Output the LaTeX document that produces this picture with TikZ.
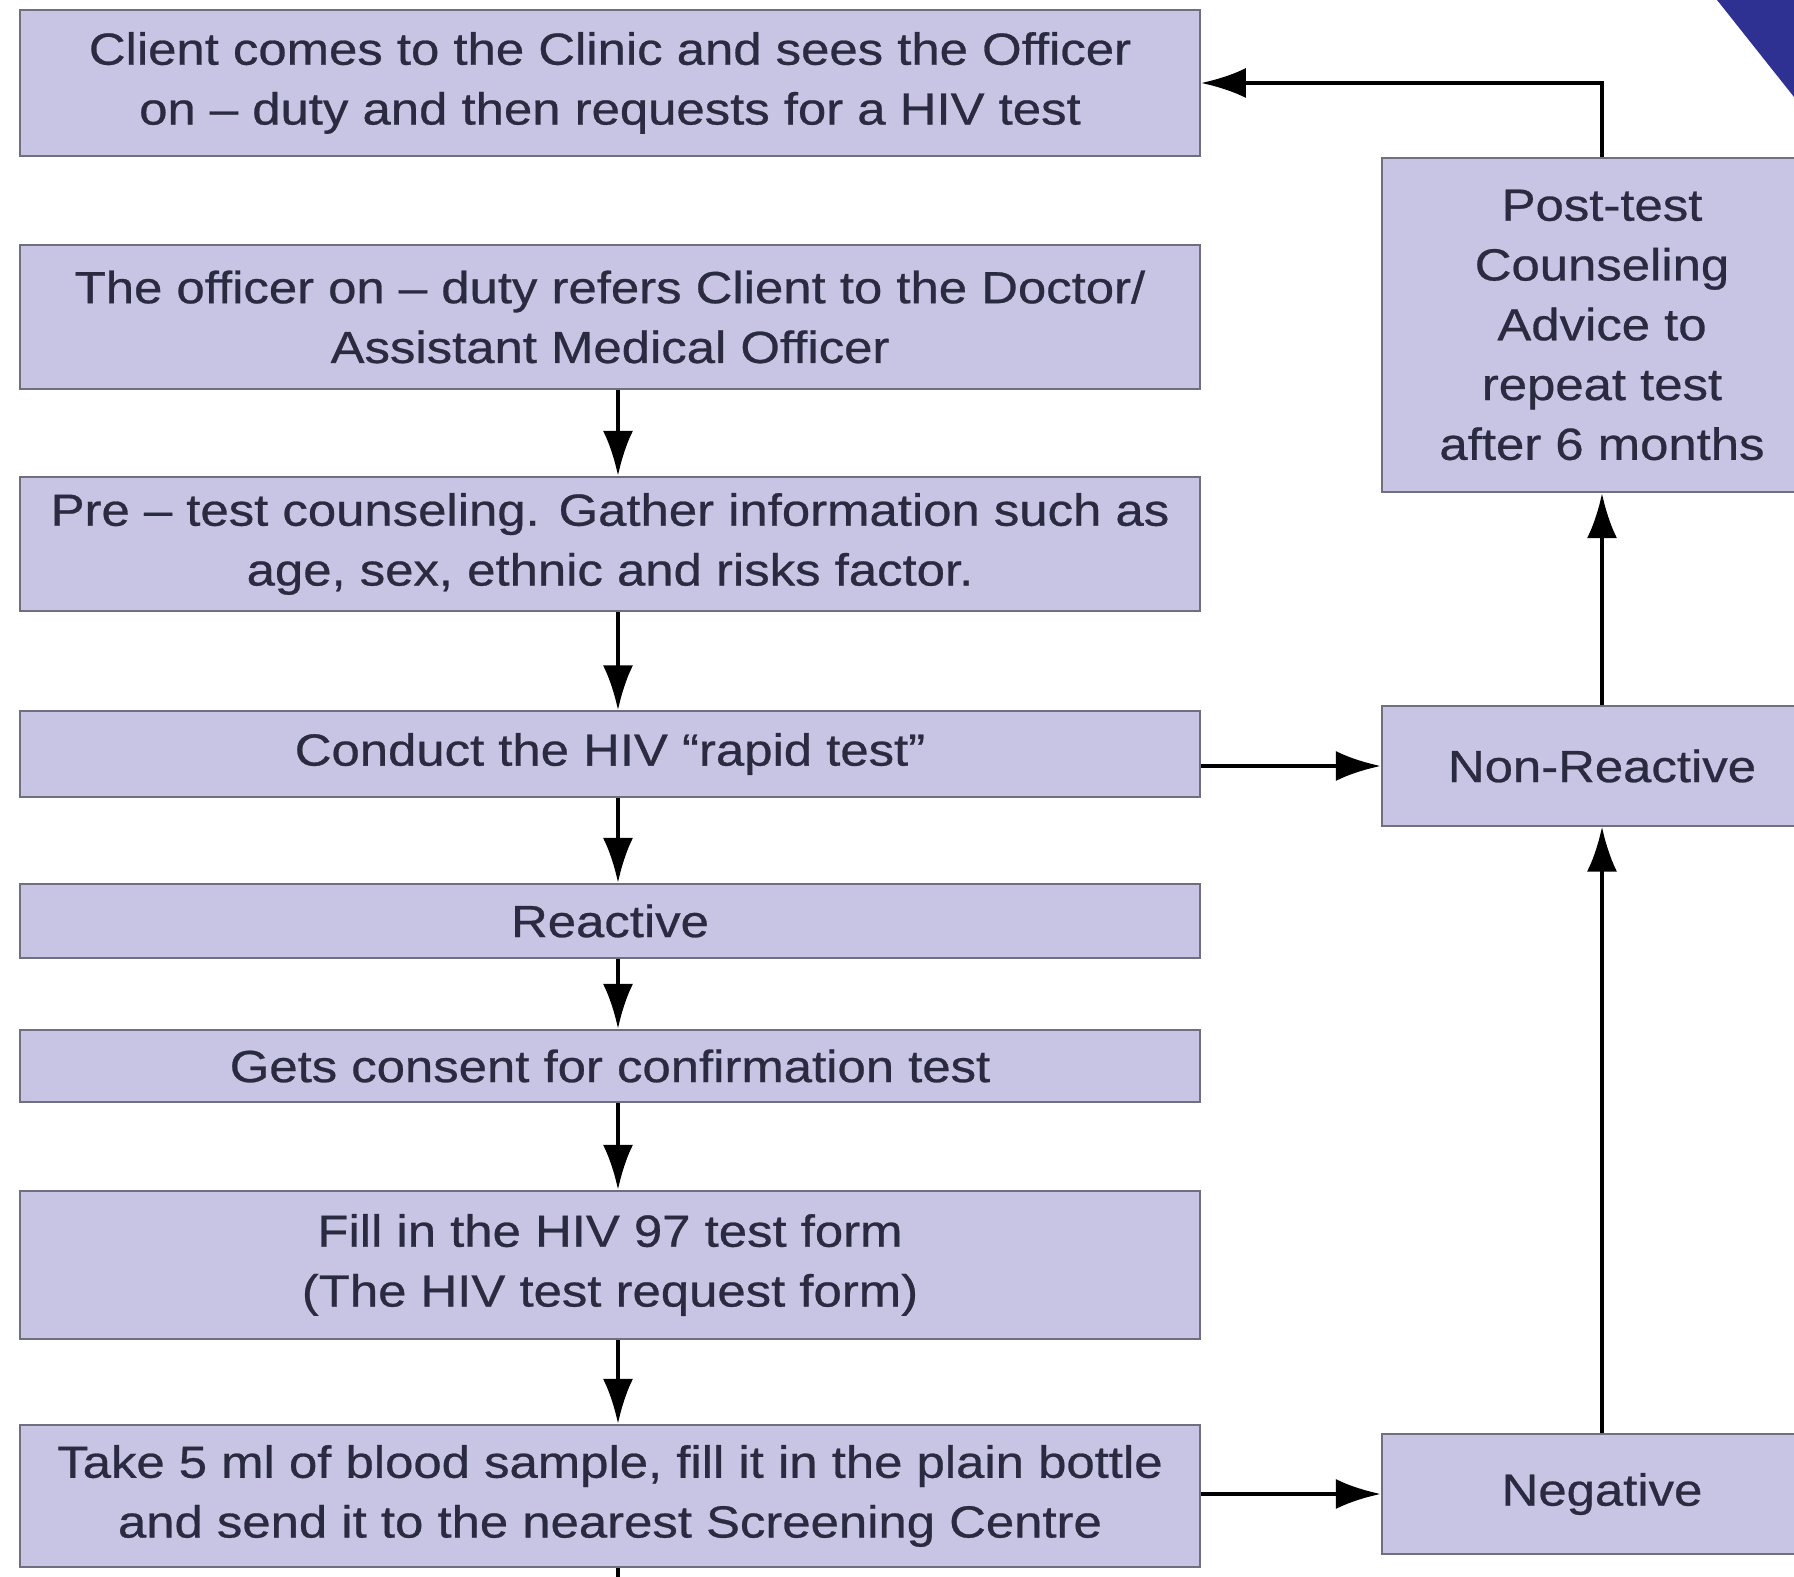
\documentclass[tikz,border=0pt]{standalone}
\usepackage{fontspec}
\setmainfont{Liberation Sans}[FakeStretch=1.13,FakeBold=0.6]
\usetikzlibrary{arrows.meta}
\definecolor{boxfill}{HTML}{C7C5E3}
\definecolor{boxline}{HTML}{6F6F80}
\definecolor{boxtext}{HTML}{2A2A40}
\definecolor{cornerblue}{HTML}{2E3192}
\begin{document}
\begin{tikzpicture}
		[x=0.01cm,y=-0.01cm,
		stepbox/.style={rectangle,draw=boxline,line width=0.02cm,fill=boxfill,text=boxtext,align=center,inner sep=0pt,font=\fontsize{12.8}{17}\selectfont},
		leftbox/.style={stepbox,minimum width=11.79cm},
		rightbox/.style={stepbox,minimum width=4.4cm},
		arr/.style={-{Latex[length=0.45cm,width=0.3cm]},line width=0.045cm}]
		\useasboundingbox (0,0) rectangle (1794,1577);
		\clip (0,0) rectangle (1794,1577);
		\fill[cornerblue] (1717,0) -- (1794,0) -- (1794,97) -- cycle;
		% left column
		\node[leftbox,minimum height=1.45cm] (client) at (610,83)
		{Client comes to the Clinic and sees the Officer\\on – duty and then requests for a HIV test};
		\node[leftbox,minimum height=1.43cm] (refer) at (610,317)
		{The officer on – duty refers Client to the Doctor/\\Assistant Medical Officer};
		\node[leftbox,minimum height=1.34cm] (pretest) at (610,544)
		{Pre – test counseling. Gather information such as\\age, sex, ethnic and risks factor.};
		\node[leftbox,minimum height=0.85cm] (rapid) at (610,754)
		{Conduct the HIV “rapid test”};
		\node[leftbox,minimum height=0.74cm] (reactive) at (610,921)
		{Reactive};
		\node[leftbox,minimum height=0.72cm] (consent) at (610,1066)
		{Gets consent for confirmation test};
		\node[leftbox,minimum height=1.48cm] (form) at (610,1265)
		{Fill in the HIV 97 test form\\(The HIV test request form)};
		\node[leftbox,minimum height=1.42cm] (blood) at (610,1496)
		{Take 5 ml of blood sample, fill it in the plain bottle\\and send it to the nearest Screening Centre};
		% right column
		\node[rightbox,minimum height=3.34cm] (post) at (1602,325)
		{Post-test\\Counseling\\Advice to\\repeat test\\after 6 months};
		\node[rightbox,minimum height=1.19cm] (nonreactive) at (1602,766)
		{Non-Reactive};
		\node[rightbox,minimum height=1.19cm] (negative) at (1602,1494)
		{Negative};
		\coordinate (col) at (618,0);
		\coordinate (out) at (618,1620);
		\foreach \a/\b in {refer/pretest,pretest/rapid,rapid/reactive,reactive/consent,consent/form,form/blood}
		{
			\draw[arr] (\a.south -| col) -- (\b.north -| col);
		}
		\draw[line width=0.045cm] (blood.south -| col) -- (out);
		\draw[arr] (rapid.east |- nonreactive.west) -- (nonreactive.west);
		\draw[arr] (blood.east |- negative.west) -- (negative.west);
		\draw[arr] (negative.north) -- (nonreactive.south);
		\draw[arr] (nonreactive.north) -- (post.south);
		\draw[arr] (post.north) |- (client.east);
	\end{tikzpicture}
\end{document}
